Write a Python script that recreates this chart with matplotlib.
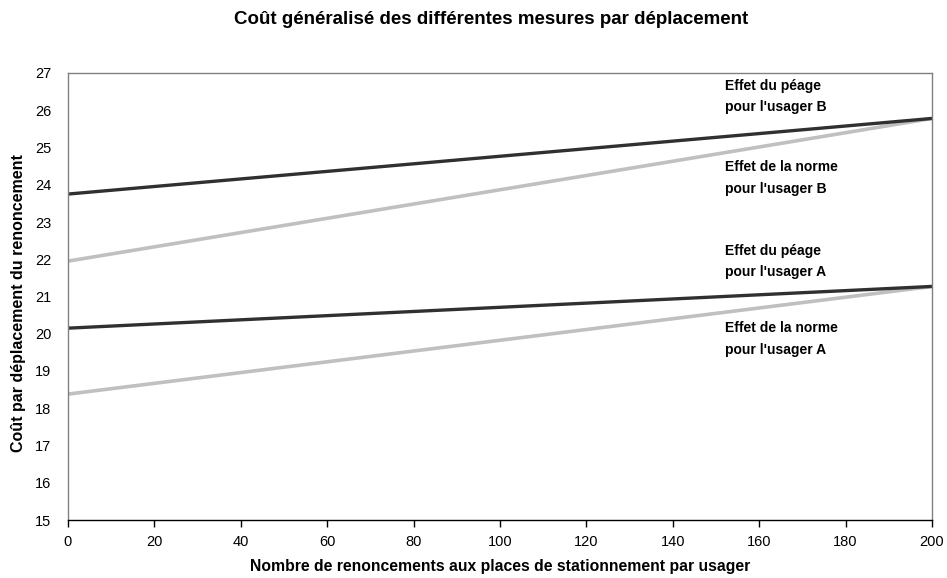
import matplotlib
matplotlib.use("Agg")
import matplotlib.pyplot as plt

plt.rcParams['font.family'] = ['Liberation Sans', 'DejaVu Sans']

x = [0, 200]
peage_B = [23.75, 25.78]
norme_B = [21.95, 25.78]
peage_A = [20.15, 21.27]
norme_A = [18.38, 21.27]

xticks = list(range(0, 201, 20))
yticks = list(range(15, 28))

labels = [
    ("Effet du péage\npour l'usager B", 26.36),
    ("Effet de la norme\npour l'usager B", 24.18),
    ("Effet du péage\npour l'usager A", 21.95),
    ("Effet de la norme\npour l'usager A", 19.86),
]

fig = plt.figure(figsize=(9.47, 5.78), dpi=100)
ax = fig.add_axes([68/947, 1-520/578, (932-68)/947, (520-73)/578])

ax.plot(x, norme_B, color='#c0c0c0', lw=2.6, solid_capstyle='butt')
ax.plot(x, norme_A, color='#c0c0c0', lw=2.6, solid_capstyle='butt')
ax.plot(x, peage_B, color='#303030', lw=2.4, solid_capstyle='butt')
ax.plot(x, peage_A, color='#303030', lw=2.4, solid_capstyle='butt')

for txt, yv in labels:
    ax.text(152, yv, txt, fontsize=10, fontweight='bold', ha='left', va='center',
            linespacing=1.65)

ax.set_xlim(0, 200)
ax.set_ylim(15, 27)
ax.set_xticks(xticks)
ax.set_yticks(yticks)
ax.tick_params(axis='x', direction='out', length=5, width=1, pad=6, labelsize=10.5, color='black')
ax.tick_params(axis='y', length=0, pad=12, labelsize=10.5)
for s in ['left', 'top', 'right']:
    ax.spines[s].set_color('#808080')
    ax.spines[s].set_linewidth(1)
ax.spines['bottom'].set_color('black')
ax.spines['bottom'].set_linewidth(1)

ax.set_xlabel("Nombre de renoncements aux places de stationnement par usager",
              fontsize=11.3, fontweight='bold', labelpad=7)
ax.set_ylabel("Coût par déplacement du renoncement", fontsize=11.5, fontweight='bold')
ax.yaxis.set_label_coords(-42/864, 0.485)
fig.text(491/947, 1-20/578, "Coût généralisé des différentes mesures par déplacement",
         fontsize=13.5, fontweight='bold', ha='center', va='center')

fig.savefig("out.png", dpi=100)
